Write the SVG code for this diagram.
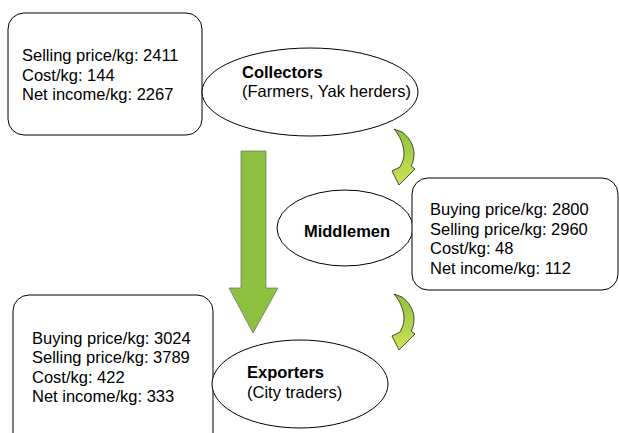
<svg xmlns="http://www.w3.org/2000/svg" width="619" height="433" viewBox="0 0 619 433">
<style>
.box{fill:#fff;stroke:#000;stroke-width:1}
.ell{fill:#fff;stroke:#000;stroke-width:1}
.t{font-family:"Liberation Sans",Arial,sans-serif;font-size:16.5px;fill:#000}
.b{font-weight:bold}
.big{fill:#8dc13f;stroke:#6b6b6b;stroke-width:0.7}
.curv{fill:url(#cg);stroke:#222;stroke-width:0.8}
</style>
<defs>
<linearGradient id="cg" x1="0" y1="0" x2="0" y2="1">
<stop offset="0" stop-color="#8cc23c"/>
<stop offset="1" stop-color="#cde35a"/>
</linearGradient>
<path id="ca" d="M0,0 L8,3 C15,8 20,16 20,25 C20,30 19,34 17,37 L21,40 L5,56 L-2,42 L6,38 C8,34 10,30 10,25 C10,16 6,7 0,0 Z"/>
</defs>
<g id="connectors">
<polygon class="big" points="241,151 266,151 266,288 278,288 253,333 229,288 241,288"/>
<use href="#ca" class="curv" transform="translate(394,129)"/>
<use href="#ca" class="curv" transform="translate(394,294)"/>
</g>
<g id="collectors-info">
<rect class="box" x="8" y="13" width="194" height="122" rx="16"/>
<text class="t" x="22" y="61">Selling price/kg: 2411</text>
<text class="t" x="22" y="80.5">Cost/kg: 144</text>
<text class="t" x="22" y="100">Net income/kg: 2267</text>
</g>
<g id="collectors">
<ellipse class="ell" cx="310" cy="92" rx="108" ry="44"/>
<text class="t b" x="242" y="78">Collectors</text>
<text class="t" x="242" y="97">(Farmers, Yak herders)</text>
</g>
<g id="middlemen">
<ellipse class="ell" cx="345" cy="228" rx="68" ry="38"/>
<text class="t b" x="347" y="237" text-anchor="middle">Middlemen</text>
</g>
<g id="middlemen-info">
<rect class="box" x="412" y="178" width="206" height="112" rx="16"/>
<text class="t" x="430" y="215">Buying price/kg: 2800</text>
<text class="t" x="430" y="234.5">Selling price/kg: 2960</text>
<text class="t" x="430" y="254">Cost/kg: 48</text>
<text class="t" x="430" y="273.5">Net income/kg: 112</text>
</g>
<g id="exporters-info">
<rect class="box" x="13" y="295" width="200" height="155" rx="16"/>
<text class="t" x="32" y="343.5">Buying price/kg: 3024</text>
<text class="t" x="32" y="363">Selling price/kg: 3789</text>
<text class="t" x="32" y="382.5">Cost/kg: 422</text>
<text class="t" x="32" y="402">Net income/kg: 333</text>
</g>
<g id="exporters">
<ellipse class="ell" cx="300" cy="384" rx="88" ry="44"/>
<text class="t b" x="247" y="377.5">Exporters</text>
<text class="t" x="247" y="397.5">(City traders)</text>
</g>
</svg>
